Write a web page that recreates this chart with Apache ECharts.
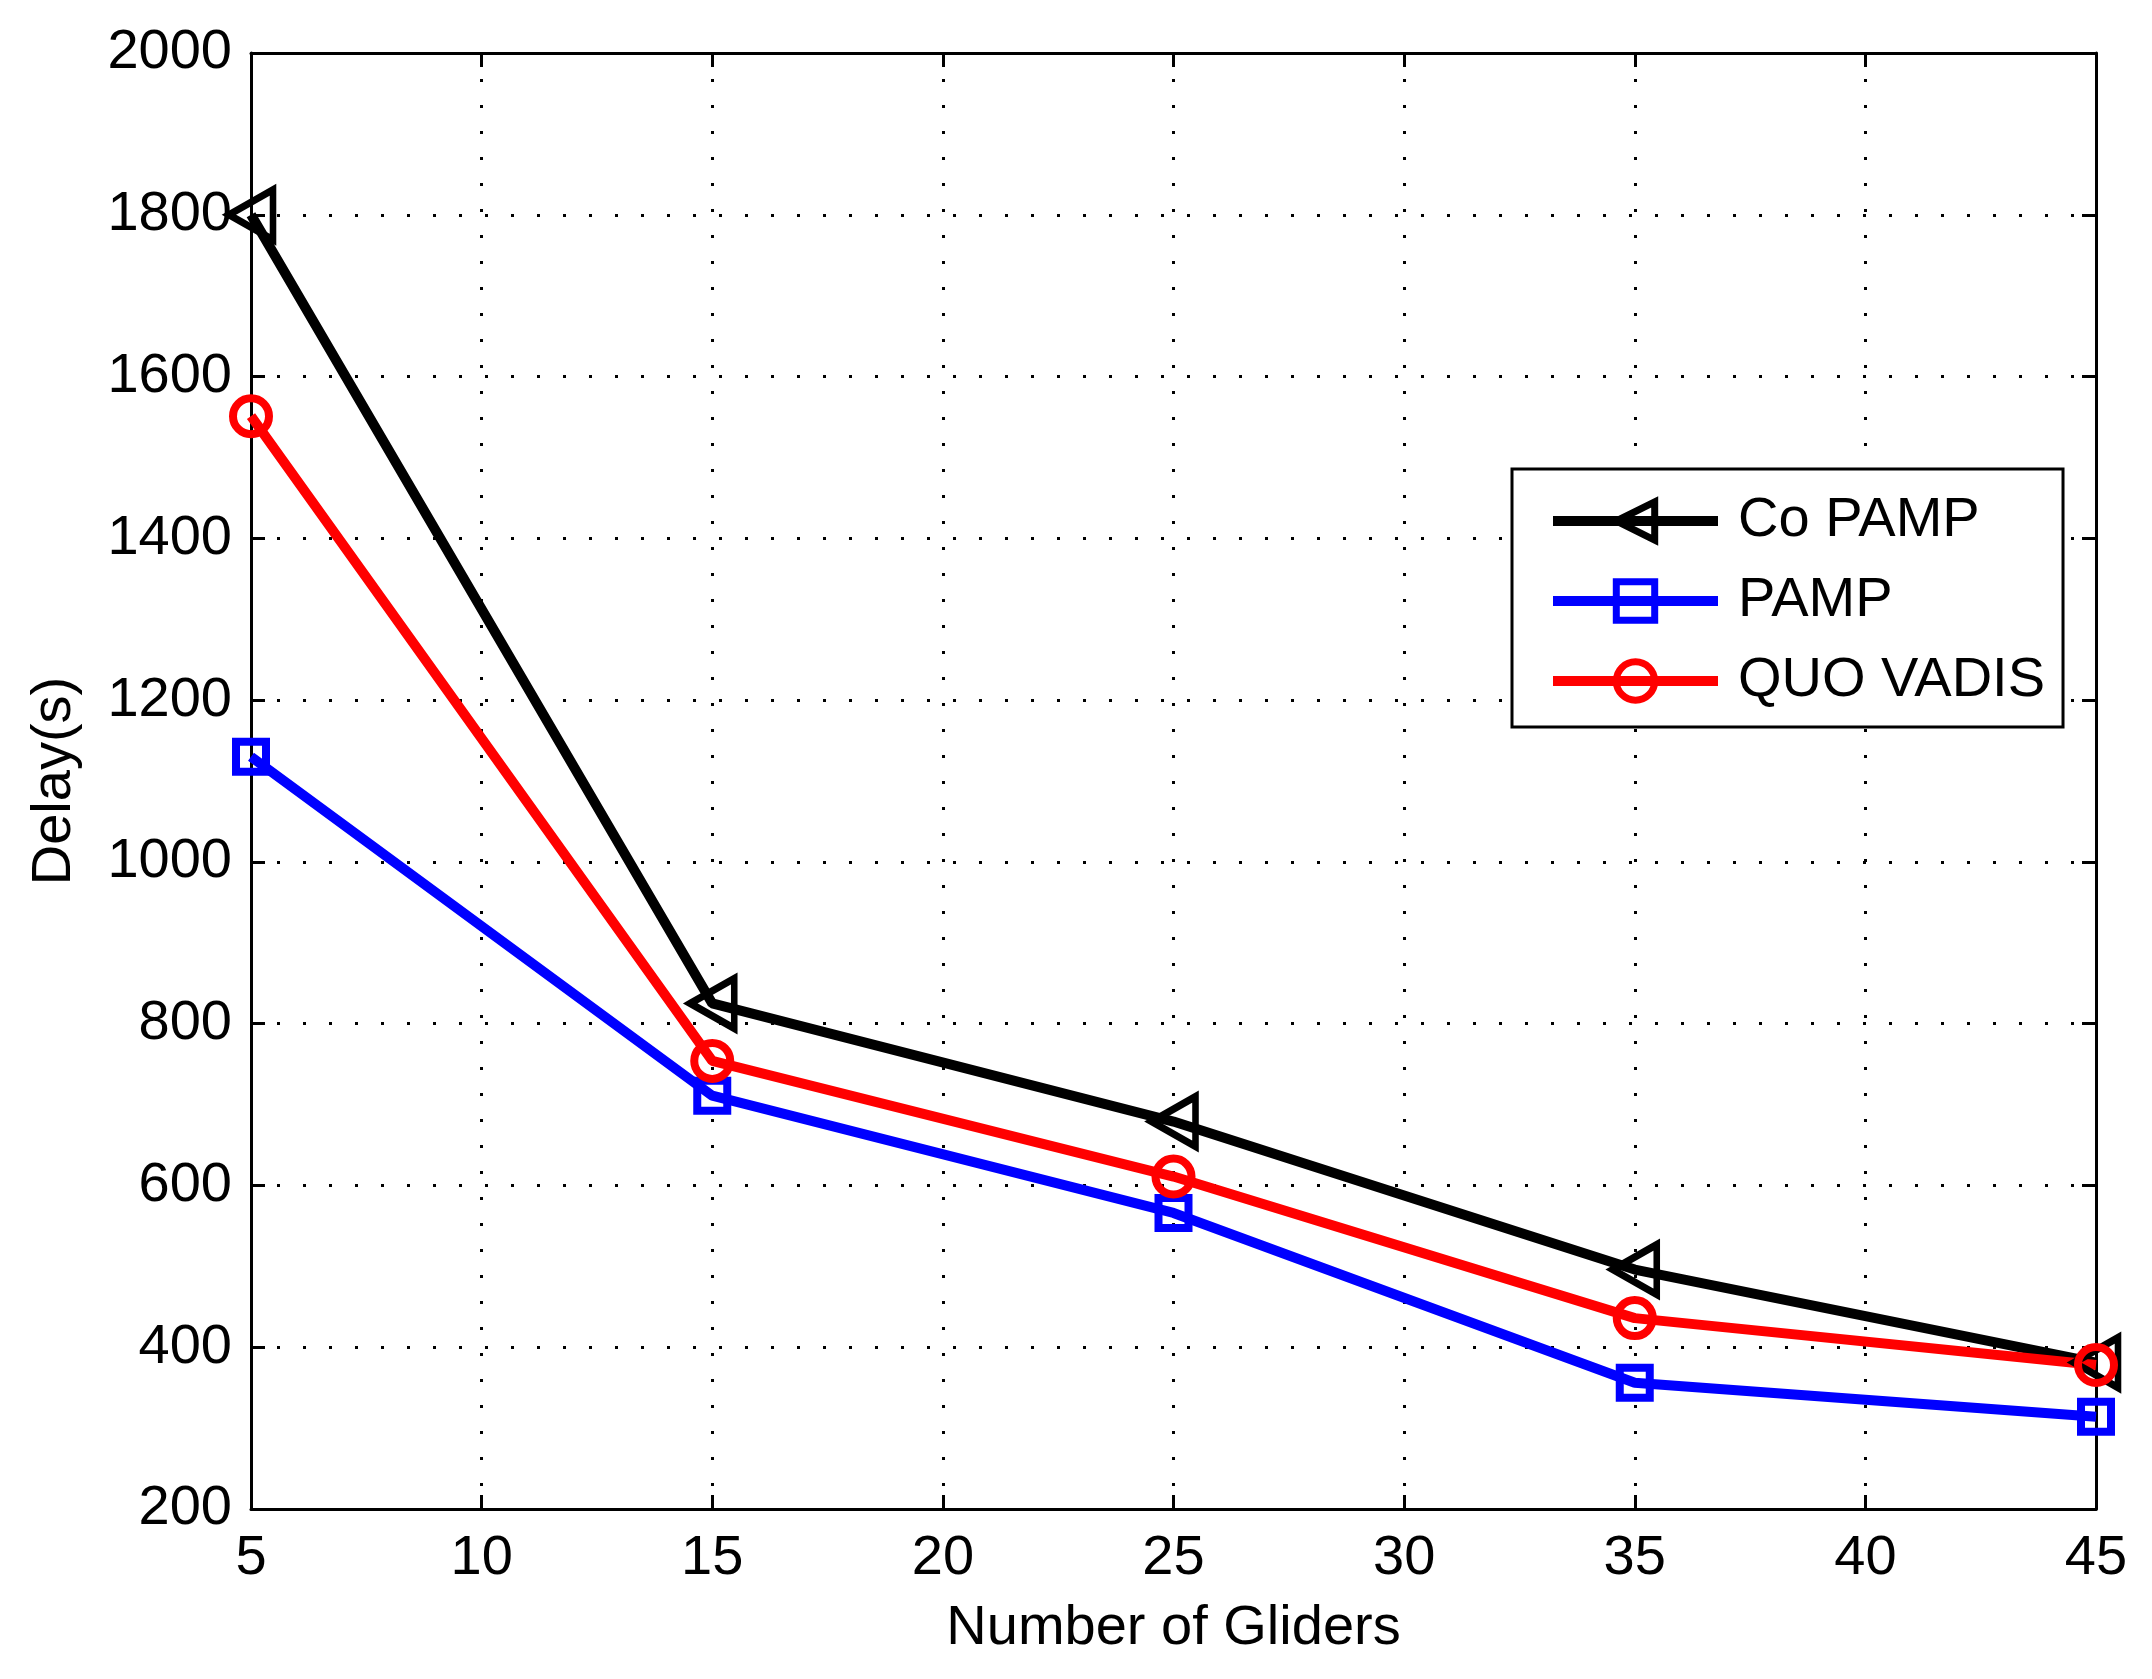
<!DOCTYPE html>
<html>
<head>
<meta charset="utf-8">
<script src="https://cdn.jsdelivr.net/npm/echarts@6/dist/echarts.min.js"></script>
<style>
  html, body { margin: 0; padding: 0; background: #fff; }
  #chart { width: 2152px; height: 1679px; }
</style>
</head>
<body>
<div id="chart"></div>
<script>
// gliders on the x axis
var gliders = [5, 15, 25, 35, 45];
// delay (s)
var coPamp = [1800, 825, 679, 496, 381];
var pamp = [1130, 711, 566, 356, 314];
var quoVadis = [1551, 754, 611, 436, 378];

var FONT = '"Liberation Sans", Arial, Helvetica, sans-serif';

function pairs(xs, ys) {
    return xs.map(function (x, i) { return [x, ys[i]]; });
}

var chart = echarts.init(document.getElementById('chart'));

// frame axes (top / right) only carry ticks
var frameAxis = {
    axisLine: {show: true, lineStyle: {color: '#000', width: 3}},
    axisTick: {show: true, inside: true, length: 14, lineStyle: {color: '#000', width: 3}},
    axisLabel: {show: false},
    splitLine: {show: false}
};

chart.setOption({
    animation: false,
    backgroundColor: '#fff',
    grid: {left: 251, right: 56, top: 53, bottom: 170},
    legend: {
        orient: 'vertical',
        left: 1512,
        top: 469,
        padding: [22, 18, 16, 36],
        itemGap: 20,
        itemWidth: 165,
        itemHeight: 48,
        backgroundColor: '#fff',
        borderColor: '#000',
        borderWidth: 3,
        borderRadius: 0,
        lineStyle: {width: 10},
        itemStyle: {borderWidth: 7},
        textStyle: {fontFamily: FONT, fontSize: 56, color: '#000', lineHeight: 60, padding: [0, 0, 0, 15]},
        data: ['Co PAMP', 'PAMP', 'QUO VADIS']
    },
    xAxis: [{
        type: 'value',
        min: 5, max: 45, interval: 5,
        name: 'Number of Gliders',
        nameLocation: 'middle',
        nameGap: 92,
        nameTextStyle: {fontFamily: FONT, fontSize: 56, color: '#000'},
        axisLine: {show: true, onZero: false, lineStyle: {color: '#000', width: 3}},
        axisTick: {show: true, inside: true, length: 14, lineStyle: {color: '#000', width: 3}},
        axisLabel: {fontFamily: FONT, fontSize: 56, color: '#000', margin: 22},
        splitLine: {show: true, lineStyle: {color: '#000', width: 3, type: [3, 23]}}
    }, Object.assign({type: 'value', position: 'top', min: 5, max: 45, interval: 5}, frameAxis)],
    yAxis: [{
        type: 'value',
        min: 200, max: 2000, interval: 200,
        name: 'Delay(s)',
        nameLocation: 'middle',
        nameGap: 168,
        nameTextStyle: {fontFamily: FONT, fontSize: 56, color: '#000'},
        axisLine: {show: true, onZero: false, lineStyle: {color: '#000', width: 3}},
        axisTick: {show: true, inside: true, length: 14, lineStyle: {color: '#000', width: 3}},
        axisLabel: {fontFamily: FONT, fontSize: 56, color: '#000', margin: 19,
            formatter: function (v) { return String(v); }},
        splitLine: {show: true, lineStyle: {color: '#000', width: 3, type: [3, 23]}}
    }, Object.assign({type: 'value', position: 'right', min: 200, max: 2000, interval: 200}, frameAxis)],
    series: [{
        name: 'Co PAMP',
        type: 'line',
        data: pairs(gliders, coPamp),
        symbol: 'triangle',
        symbolRotate: 90,
        symbolSize: [50, 44],
        lineStyle: {color: '#000', width: 10},
        itemStyle: {color: 'transparent', borderColor: '#000', borderWidth: 7},
        clip: false
    }, {
        name: 'PAMP',
        type: 'line',
        data: pairs(gliders, pamp),
        symbol: 'rect',
        symbolSize: 30,
        lineStyle: {color: '#0000ff', width: 10},
        itemStyle: {color: 'transparent', borderColor: '#0000ff', borderWidth: 8},
        clip: false
    }, {
        name: 'QUO VADIS',
        type: 'line',
        data: pairs(gliders, quoVadis),
        symbol: 'circle',
        symbolSize: 36,
        lineStyle: {color: '#ff0000', width: 10},
        itemStyle: {color: 'transparent', borderColor: '#ff0000', borderWidth: 8},
        clip: false
    }]
});
</script>
</body>
</html>
